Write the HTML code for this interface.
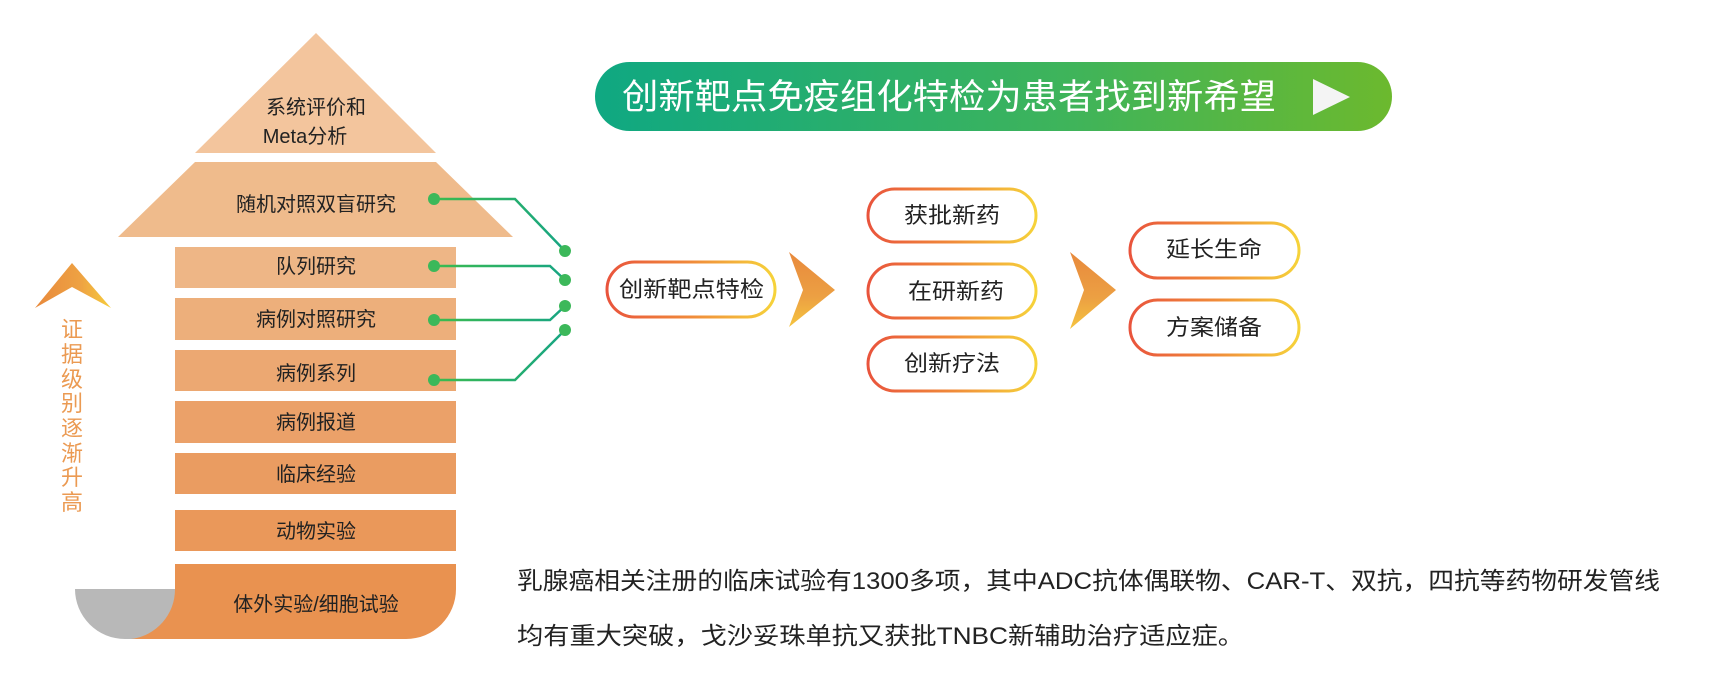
<!DOCTYPE html>
<html><head><meta charset="utf-8"><style>
html,body{margin:0;padding:0;background:#fff;}
svg{display:block;font-family:"Liberation Sans","Noto Sans CJK SC",sans-serif;}
</style></head><body>
<svg width="1718" height="688" viewBox="0 0 1718 688" xmlns="http://www.w3.org/2000/svg">
<defs>
<linearGradient id="ban" x1="0" x2="1" y1="0" y2="0"><stop offset="0" stop-color="#0fa882"/><stop offset="0.6" stop-color="#3fb45a"/><stop offset="1" stop-color="#6cb92e"/></linearGradient>
<linearGradient id="pill" x1="0" x2="1" y1="0" y2="0"><stop offset="0" stop-color="#e9543c"/><stop offset="0.5" stop-color="#f08a3a"/><stop offset="1" stop-color="#f6d33a"/></linearGradient>
<linearGradient id="chev" x1="0" x2="0" y1="0" y2="1"><stop offset="0" stop-color="#e8893c"/><stop offset="0.6" stop-color="#eca043"/><stop offset="1" stop-color="#f5c43f"/></linearGradient>
<linearGradient id="lch" x1="0" x2="1" y1="0" y2="0"><stop offset="0" stop-color="#e8893c"/><stop offset="0.6" stop-color="#eea243"/><stop offset="1" stop-color="#f6cc3c"/></linearGradient>
<linearGradient id="gl" x1="0" x2="1"><stop offset="0" stop-color="#3cbb4e"/><stop offset="1" stop-color="#17a583"/></linearGradient>
</defs>

<!-- pyramid -->
<polygon points="316,33 195,153 436,153" fill="#f3c59d"/>
<polygon points="195,162 436,162 513,237 118,237" fill="#efbb8c"/>
<rect x="175" y="247" width="281" height="41" fill="#eeb686"/>
<rect x="175" y="298" width="281" height="42" fill="#edaf7b"/>
<rect x="175" y="350" width="281" height="41" fill="#eca872"/>
<rect x="175" y="401" width="281" height="42" fill="#eba169"/>
<rect x="175" y="453" width="281" height="41" fill="#ea9c61"/>
<rect x="175" y="510" width="281" height="41" fill="#ea985a"/>
<path d="M75,589 H175 V639 H125 A50,50 0 0 1 75,589 Z" fill="#b8b8b8"/>
<path d="M175,564 H456 V589 A50,50 0 0 1 406,639 H131 A50,50 0 0 0 175,589 Z" fill="#e99250"/>

<g font-size="20" fill="#222" text-anchor="middle">
<text x="316" y="114">系统评价和</text>
<text x="305" y="143">Meta分析</text>
<text x="316" y="211">随机对照双盲研究</text>
<text x="316" y="273">队列研究</text>
<text x="316" y="326">病例对照研究</text>
<text x="316" y="380">病例系列</text>
<text x="316" y="429">病例报道</text>
<text x="316" y="481">临床经验</text>
<text x="316" y="538">动物实验</text>
<text x="316" y="611">体外实验/细胞试验</text>
</g>

<!-- green connectors -->
<g fill="none" stroke="url(#gl)" stroke-width="2.5">
<polyline points="434,199 515,199 565,251"/>
<polyline points="434,266 550,266 565,280"/>
<polyline points="434,320 550,320 565,306"/>
<polyline points="434,380 515,380 565,330"/>
</g>
<g fill="#3cb85a">
<circle cx="434" cy="199" r="6"/><circle cx="434" cy="266" r="6"/><circle cx="434" cy="320" r="6"/><circle cx="434" cy="380" r="6"/>
<circle cx="565" cy="251" r="6"/><circle cx="565" cy="280" r="6"/><circle cx="565" cy="306" r="6"/><circle cx="565" cy="330" r="6"/>
</g>

<!-- left arrow + vertical text -->
<polygon points="72,263 111,308 72,287 35,308" fill="url(#lch)"/>
<g font-size="22" fill="#eb9a52" text-anchor="middle">
<text x="72" y="337">证</text><text x="72" y="362">据</text><text x="72" y="387">级</text><text x="72" y="411">别</text>
<text x="72" y="436">逐</text><text x="72" y="461">渐</text><text x="72" y="485">升</text><text x="72" y="510">高</text>
</g>

<!-- banner -->
<rect x="595" y="62" width="797" height="69" rx="34.5" fill="url(#ban)"/>
<text x="622" y="109" font-size="35" fill="#fff" textLength="654" lengthAdjust="spacingAndGlyphs">创新靶点免疫组化特检为患者找到新希望</text>
<polygon points="1313,79 1350,97 1313,115" fill="#f4f4f4"/>

<!-- pills -->
<g fill="#fff" stroke="url(#pill)" stroke-width="3">
<rect x="607" y="262" width="168" height="55" rx="27.5"/>
<rect x="868" y="189" width="168" height="53" rx="26.5"/>
<rect x="868" y="264" width="168" height="54" rx="27"/>
<rect x="868" y="337" width="168" height="54" rx="27"/>
<rect x="1130" y="223" width="169" height="55" rx="27.5"/>
<rect x="1130" y="300" width="169" height="55" rx="27.5"/>
</g>
<g font-size="22" fill="#222">
<text x="619" y="297" textLength="145" lengthAdjust="spacingAndGlyphs">创新靶点特检</text>
<text x="904" y="223" textLength="96" lengthAdjust="spacingAndGlyphs">获批新药</text>
<text x="908" y="299" textLength="96" lengthAdjust="spacingAndGlyphs">在研新药</text>
<text x="904" y="371" textLength="96" lengthAdjust="spacingAndGlyphs">创新疗法</text>
<text x="1166" y="257" textLength="96" lengthAdjust="spacingAndGlyphs">延长生命</text>
<text x="1166" y="335" textLength="96" lengthAdjust="spacingAndGlyphs">方案储备</text>
</g>

<!-- chevrons -->
<polygon points="789,252 835,290 789,327 803,290" fill="url(#chev)"/>
<polygon points="1070,252 1116,290 1070,329 1084,290" fill="url(#chev)"/>

<!-- paragraph -->
<g font-size="24" fill="#222">
<text x="517" y="589" textLength="1143" lengthAdjust="spacingAndGlyphs">乳腺癌相关注册的临床试验有1300多项，其中ADC抗体偶联物、CAR-T、双抗，四抗等药物研发管线</text>
<text x="517" y="644" textLength="727" lengthAdjust="spacingAndGlyphs">均有重大突破，戈沙妥珠单抗又获批TNBC新辅助治疗适应症。</text>
</g>
</svg>
</body></html>
